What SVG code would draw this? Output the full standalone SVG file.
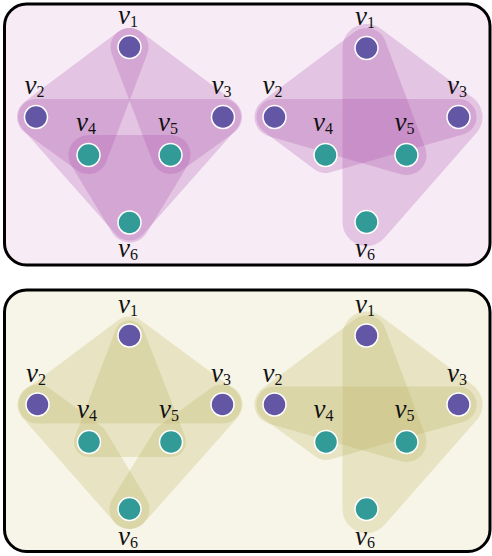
<svg xmlns="http://www.w3.org/2000/svg" width="492" height="556" viewBox="0 0 492 556">
<style>
.pt{fill:#f7ecf6;stroke:#000;stroke-width:3}
.pb{fill:#f7f5e7;stroke:#000;stroke-width:3}
.he{opacity:.25}
.hp polygon{fill:#a94fa9;stroke:#a94fa9;stroke-linejoin:round}
.ho polygon{fill:#b9b25c;stroke:#b9b25c;stroke-linejoin:round}
.a{fill:#6357a5;stroke:#fff;stroke-width:1.5}
.b{fill:#339b97;stroke:#fff;stroke-width:1.5}
text{font-family:"Liberation Serif","Times New Roman",serif;font-size:27px;font-style:italic;fill:#111}
.s{font-size:16px;font-style:normal}
</style>
<rect class="pt" x="4.5" y="4" width="485.5" height="261" rx="22"/>
<rect class="pb" x="4.5" y="290" width="485.5" height="261.5" rx="22"/>
<g id="hyperedges">
  <g class="he hp"><polygon points="129.5,47 36,117 88.5,155" stroke-width="38"/></g>
  <g class="he hp"><polygon points="129.5,47 223,117 170.5,155" stroke-width="38"/></g>
  <g class="he hp"><polygon points="36,117 223,117 129.5,222.5" stroke-width="36"/></g>
  <g class="he hp"><polygon points="88.5,155 170.5,155 129.5,222.5" stroke-width="40"/></g>
  <g class="he hp"><polygon points="366.5,48 274.5,117 406.5,155" stroke-width="40"/></g>
  <g class="he hp"><polygon points="366.5,48 458.5,117 366.5,222" stroke-width="48"/></g>
  <g class="he hp"><polygon points="274.5,117 458.5,117 325.5,155" stroke-width="36"/></g>
  <g class="he ho"><polygon points="129.5,335.5 37.5,404.5 222.5,404.5" stroke-width="38"/></g>
  <g class="he ho"><polygon points="129.5,335.5 89,442 171,442" stroke-width="30"/></g>
  <g class="he ho"><polygon points="37.5,404.5 89,442 129.5,509" stroke-width="40"/></g>
  <g class="he ho"><polygon points="222.5,404.5 171,442 129.5,509" stroke-width="40"/></g>
  <g class="he ho"><polygon points="366.5,335.5 274.5,404.5 406.5,442" stroke-width="40"/></g>
  <g class="he ho"><polygon points="366.5,335.5 458.5,404.5 366.5,509" stroke-width="48"/></g>
  <g class="he ho"><polygon points="274.5,404.5 458.5,404.5 326,442" stroke-width="36"/></g>
</g>
<g id="tl-v1"><circle class="a" cx="129.5" cy="47" r="11.5"/><text x="118" y="24">v<tspan class="s" dy="3">1</tspan></text></g>
<g id="tl-v2"><circle class="a" cx="36" cy="117" r="11.5"/><text x="24.5" y="94">v<tspan class="s" dy="3">2</tspan></text></g>
<g id="tl-v3"><circle class="a" cx="223" cy="117" r="11.5"/><text x="211.5" y="94">v<tspan class="s" dy="3">3</tspan></text></g>
<g id="tl-v4"><circle class="b" cx="88.5" cy="155" r="11.5"/><text x="76" y="131">v<tspan class="s" dy="3">4</tspan></text></g>
<g id="tl-v5"><circle class="b" cx="170.5" cy="155" r="11.5"/><text x="158" y="131">v<tspan class="s" dy="3">5</tspan></text></g>
<g id="tl-v6"><circle class="b" cx="129.5" cy="222.5" r="11.5"/><text x="118" y="257">v<tspan class="s" dy="3">6</tspan></text></g>
<g id="tr-v1"><circle class="a" cx="366.5" cy="48" r="11.5"/><text x="355" y="25">v<tspan class="s" dy="3">1</tspan></text></g>
<g id="tr-v2"><circle class="a" cx="274.5" cy="117" r="11.5"/><text x="262.5" y="94">v<tspan class="s" dy="3">2</tspan></text></g>
<g id="tr-v3"><circle class="a" cx="458.5" cy="117" r="11.5"/><text x="447" y="94">v<tspan class="s" dy="3">3</tspan></text></g>
<g id="tr-v4"><circle class="b" cx="325.5" cy="155" r="11.5"/><text x="313" y="131">v<tspan class="s" dy="3">4</tspan></text></g>
<g id="tr-v5"><circle class="b" cx="406.5" cy="155" r="11.5"/><text x="394.5" y="131">v<tspan class="s" dy="3">5</tspan></text></g>
<g id="tr-v6"><circle class="b" cx="366.5" cy="222" r="11.5"/><text x="355" y="257">v<tspan class="s" dy="3">6</tspan></text></g>
<g id="bl-v1"><circle class="a" cx="129.5" cy="335.5" r="11.5"/><text x="118" y="313">v<tspan class="s" dy="3">1</tspan></text></g>
<g id="bl-v2"><circle class="a" cx="37.5" cy="404.5" r="11.5"/><text x="26" y="382">v<tspan class="s" dy="3">2</tspan></text></g>
<g id="bl-v3"><circle class="a" cx="222.5" cy="404.5" r="11.5"/><text x="211" y="382">v<tspan class="s" dy="3">3</tspan></text></g>
<g id="bl-v4"><circle class="b" cx="89" cy="442" r="11.5"/><text x="77" y="418">v<tspan class="s" dy="3">4</tspan></text></g>
<g id="bl-v5"><circle class="b" cx="171" cy="442" r="11.5"/><text x="159" y="418">v<tspan class="s" dy="3">5</tspan></text></g>
<g id="bl-v6"><circle class="b" cx="129.5" cy="509" r="11.5"/><text x="118" y="545">v<tspan class="s" dy="3">6</tspan></text></g>
<g id="br-v1"><circle class="a" cx="366.5" cy="335.5" r="11.5"/><text x="355" y="313">v<tspan class="s" dy="3">1</tspan></text></g>
<g id="br-v2"><circle class="a" cx="274.5" cy="404.5" r="11.5"/><text x="262.5" y="382">v<tspan class="s" dy="3">2</tspan></text></g>
<g id="br-v3"><circle class="a" cx="458.5" cy="404.5" r="11.5"/><text x="447" y="382">v<tspan class="s" dy="3">3</tspan></text></g>
<g id="br-v4"><circle class="b" cx="326" cy="442" r="11.5"/><text x="313.5" y="418">v<tspan class="s" dy="3">4</tspan></text></g>
<g id="br-v5"><circle class="b" cx="406.5" cy="442" r="11.5"/><text x="394.5" y="418">v<tspan class="s" dy="3">5</tspan></text></g>
<g id="br-v6"><circle class="b" cx="366.5" cy="509" r="11.5"/><text x="355" y="545">v<tspan class="s" dy="3">6</tspan></text></g>
</svg>
